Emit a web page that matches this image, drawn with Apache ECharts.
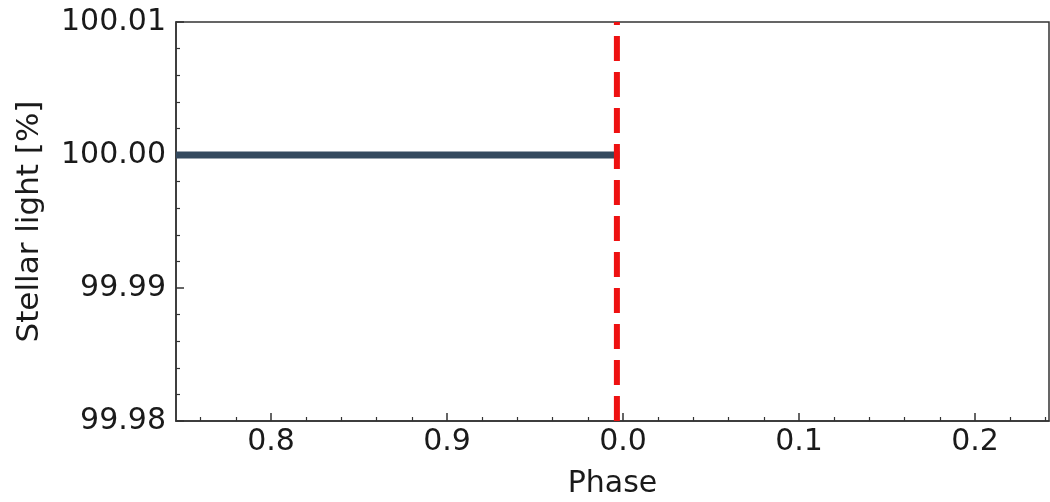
<!DOCTYPE html>
<html>
<head>
<meta charset="utf-8">
<script src="https://cdn.jsdelivr.net/npm/echarts@6/dist/echarts.min.js"></script>
<style>
  html, body { margin: 0; padding: 0; background: #fff; }
  #chart { width: 1050px; height: 502px; }
</style>
</head>
<body>
<div id="chart"></div>
<script>
// Phase axis runs past 1.0; labels wrap back to 0.0
const phase = [0.746, 0.998];
const stellarLight = [100.0, 100.0];
const transitPhase = 0.9965;

const xTickValues = [0.8, 0.9, 1.0, 1.1, 1.2];
const xTickLabels = ['0.8', '0.9', '0.0', '0.1', '0.2'];
const xMinorTicks = [0.76, 0.78, 0.82, 0.84, 0.86, 0.88, 0.92, 0.94, 0.96, 0.98,
                     1.02, 1.04, 1.06, 1.08, 1.12, 1.14, 1.16, 1.18, 1.22, 1.24];
const yTickLabels = ['99.98', '99.99', '100.00', '100.01'];

const xMin = 0.746, xMax = 1.242;
const yMin = 99.98, yMax = 100.01;

const font = 'DejaVu Sans';
const ink = '#1a1a1a';
const spine = '#333333';

const chart = echarts.init(document.getElementById('chart'));
chart.setOption({
  animation: false,
  grid: {
    left: 176, top: 22, right: 1, bottom: 81,
    show: true, borderColor: spine, borderWidth: 1.5,
    outerBoundsMode: 'none'
  },
  xAxis: [{
    type: 'value', min: xMin, max: xMax,
    name: 'Phase', nameLocation: 'middle', nameGap: 48,
    nameTextStyle: { fontFamily: font, fontSize: 30, color: ink },
    axisLine: { show: true, onZero: false, lineStyle: { color: spine, width: 1.5 } },
    axisTick: { show: true, inside: true, length: 8, customValues: xTickValues,
                lineStyle: { color: spine, width: 1.5 } },
    axisLabel: {
      customValues: xTickValues, margin: 6,
      fontFamily: font, fontSize: 30, color: ink,
      formatter: v => {
        const i = xTickValues.findIndex(t => Math.abs(t - v) < 1e-6);
        return i >= 0 ? xTickLabels[i] : '';
      }
    },
    splitLine: { show: false }
  }, {
    type: 'value', min: xMin, max: xMax, position: 'bottom', gridIndex: 0,
    axisLine: { show: false },
    axisTick: { show: true, inside: true, length: 4, customValues: xMinorTicks,
                lineStyle: { color: spine, width: 1.2 } },
    axisLabel: { show: false },
    splitLine: { show: false }
  }],
  yAxis: {
    type: 'value', min: yMin, max: yMax, interval: 0.01,
    name: 'Stellar light [%]', nameLocation: 'middle', nameGap: 131,
    nameTextStyle: { fontFamily: font, fontSize: 31, color: ink },
    axisLine: { show: true, onZero: false, lineStyle: { color: spine, width: 1.5 } },
    axisTick: { show: true, inside: true, length: 8, lineStyle: { color: spine, width: 1.5 } },
    minorTick: { show: true, splitNumber: 5, length: 4, lineStyle: { color: spine, width: 1.2 } },
    axisLabel: {
      margin: 10, fontFamily: font, fontSize: 30, color: ink,
      formatter: v => {
        const i = Math.round((v - yMin) / 0.01);
        return yTickLabels[i] !== undefined ? yTickLabels[i] : '';
      }
    },
    splitLine: { show: false }
  },
  series: [{
    name: 'Stellar light',
    type: 'line',
    xAxisIndex: 0,
    data: phase.map((p, i) => [p, stellarLight[i]]),
    showSymbol: false,
    lineStyle: { color: '#34495e', width: 7, cap: 'butt' },
    clip: true,
    z: 2
  }, {
    name: 'Transit',
    type: 'line',
    xAxisIndex: 0,
    // drawn top-down; the offset leaves a short stub at the top edge
    data: [[transitPhase, yMax], [transitPhase, yMin]],
    showSymbol: false,
    lineStyle: { color: '#ee1111', width: 6, type: [25, 11], dashOffset: 22, cap: 'butt' },
    clip: true,
    z: 3
  }]
});
</script>
</body>
</html>
